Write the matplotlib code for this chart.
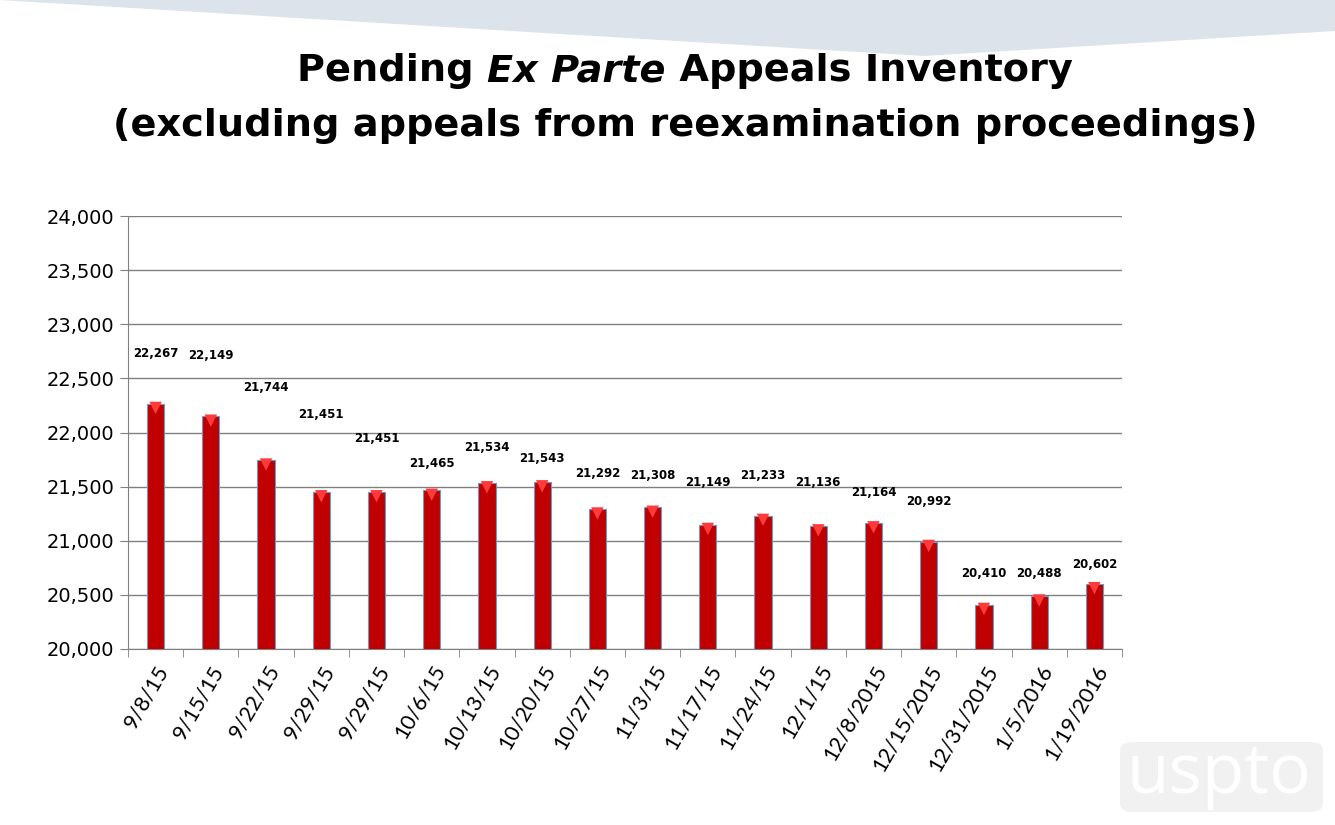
import numpy as np
import matplotlib.pyplot as plt
from matplotlib.patches import Polygon, FancyBboxPatch

# -------------------------------
# Data
# -------------------------------
dates = ["9/8/15", "9/15/15", "9/22/15", "9/29/15", "9/29/15", "10/6/15",
         "10/13/15", "10/20/15", "10/27/15", "11/3/15", "11/17/15", "11/24/15",
         "12/1/15", "12/8/2015", "12/15/2015", "12/31/2015", "1/5/2016", "1/19/2016"]
pending = [22267, 22149, 21744, 21451, 21451, 21465,
           21534, 21543, 21292, 21308, 21149, 21233,
           21136, 21164, 20992, 20410, 20488, 20602]
# heights where the value labels sit in the original (they float above the bars)
label_height = [22734, 22707, 22420, 22162, 21949, 21718,
                21866, 21764, 21617, 21607, 21534, 21607,
                21534, 21450, 21367, 20693, 20693, 20776]

fig = plt.figure(figsize=(13.35, 8.25), dpi=100)

# light banner at the top of the slide
fig.patches.append(Polygon([(0, 1), (924 / 1335, 1 - 56 / 825), (1, 1 - 31 / 825), (1, 1)],
                           closed=True, transform=fig.transFigure,
                           facecolor="#dde3ea", edgecolor="none", zorder=0))

# -------------------------------
# Title with italic "Ex Parte"
# -------------------------------
renderer = fig.canvas.get_renderer()
parts = [("Pending ", "normal"), ("Ex Parte", "italic"), (" Appeals Inventory", "normal")]
size = 27.5
widths = []
for txt, style in parts:
    t = fig.text(0, 0, txt, fontsize=size, fontweight="bold", style=style)
    widths.append(t.get_window_extent(renderer).width)
    t.remove()
x = (1335 * 0.513 - sum(widths) / 2) / 1335
for (txt, style), w in zip(parts, widths):
    fig.text(x, 1 - 71 / 825, txt, fontsize=size, fontweight="bold", style=style,
             va="center", ha="left")
    x += w / 1335
fig.text(0.513, 1 - 126 / 825, "(excluding appeals from reexamination proceedings)",
         fontsize=size, fontweight="bold", ha="center", va="center")

# -------------------------------
# Bar chart
# -------------------------------
ax = fig.add_axes([128 / 1335, 176 / 825, (1122 - 128) / 1335, (649 - 216) / 825])
xpos = np.arange(len(dates))
ax.bar(xpos, pending, width=0.31, color="#c00000", edgecolor="#6b9ac4",
       linewidth=0.8, zorder=3)
# lighter chevron at the top of each bar
ax.scatter(xpos, np.array(pending) - 40, marker="v", s=80, color="#ff3a3a",
           edgecolors="none", zorder=4)

for xi, v, h in zip(xpos, pending, label_height):
    ax.text(xi, h, f"{v:,}", ha="center", va="center", fontsize=8.5,
            fontweight="bold", zorder=5)

ax.set_ylim(20000, 24000)
ax.set_xlim(-0.5, len(dates) - 0.5)
ax.set_yticks(np.arange(20000, 24001, 500))
ax.set_yticklabels([f"{v:,}" for v in np.arange(20000, 24001, 500)], fontsize=14)
ax.set_xticks(xpos)
ax.set_xticklabels(dates, rotation=60, ha="right", rotation_mode="anchor",
                   fontsize=15.5, family="Lato")
ax.set_xticks(np.arange(-0.5, len(dates), 1), minor=True)
ax.tick_params(axis="x", which="major", length=0, pad=9)
ax.tick_params(axis="x", which="minor", length=6, color="#808080")
ax.tick_params(axis="y", length=6, color="#808080", pad=4)

ax.yaxis.grid(True, color="#808080", linewidth=1)
ax.set_axisbelow(True)
for side in ["top", "right"]:
    ax.spines[side].set_visible(False)
for side in ["left", "bottom"]:
    ax.spines[side].set_color("#808080")

# faint uspto logo in the corner
fig.patches.append(FancyBboxPatch((1120 / 1335, 13 / 825), 203 / 1335, 70 / 825,
                                  boxstyle="round,pad=0,rounding_size=0.01",
                                  transform=fig.transFigure, facecolor="#f1f1f1",
                                  edgecolor="none", zorder=0))
fig.text(1219 / 1335, 50 / 825, "uspto", fontsize=50, color="white",
         ha="center", va="center", family="Open Sans", zorder=1)

plt.savefig("out.png", dpi=100)
